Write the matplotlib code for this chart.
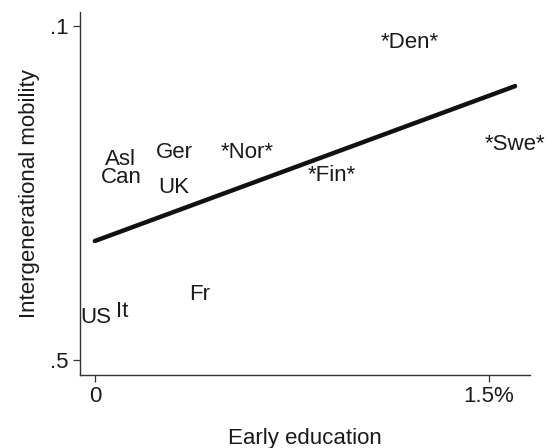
import matplotlib.pyplot as plt

# Country labels placed at (early education spending, intergenerational mobility)
countries = ["Asl", "Can", "Ger", "UK", "*Nor*", "Fr", "US", "It", "*Den*", "*Fin*", "*Swe*"]
early_edu = [0.099, 0.099, 0.301, 0.301, 0.579, 0.400, 0.004, 0.103, 1.199, 0.902, 1.599]
mobility = [0.2595, 0.2812, 0.252, 0.2928, 0.252, 0.421, 0.4497, 0.4425, 0.120, 0.2785, 0.2413]

# Fitted line endpoints
fit_x = [0.0, 1.599]
fit_y = [0.3575, 0.1719]

plt.rcParams['font.family'] = ['Liberation Sans', 'DejaVu Sans']
fs = 16

fig = plt.figure(figsize=(5.47, 4.48), dpi=100)
ax = fig.add_axes([0.146, 0.163, 0.823, 0.810])

ax.plot(fit_x, fit_y, color="#111111", linewidth=3.2, solid_capstyle="round")

for name, x, y in zip(countries, early_edu, mobility):
    ax.text(x, y, name, ha="center", va="center", fontsize=fs, color="#1a1a1a")

ax.set_xlim(-0.057, 1.656)
ax.set_ylim(0.518, 0.0832)

ax.set_xticks([0, 1.5])
ax.set_xticklabels(["0", "1.5%"])
ax.set_yticks([0.1, 0.5])
ax.set_yticklabels([".1", ".5"])

for side in ["top", "right"]:
    ax.spines[side].set_visible(False)
for side in ["left", "bottom"]:
    ax.spines[side].set_color("#333333")
    ax.spines[side].set_linewidth(1.0)

ax.tick_params(direction="out", length=5, width=0.9, color="#333333",
               labelsize=fs, labelcolor="#1a1a1a", pad=3)

ax.set_xlabel("Early education", fontsize=fs, color="#1a1a1a", labelpad=15)
ax.set_ylabel("Intergenerational mobility", fontsize=fs, color="#1a1a1a", labelpad=7)

fig.savefig("out.png", dpi=100)
